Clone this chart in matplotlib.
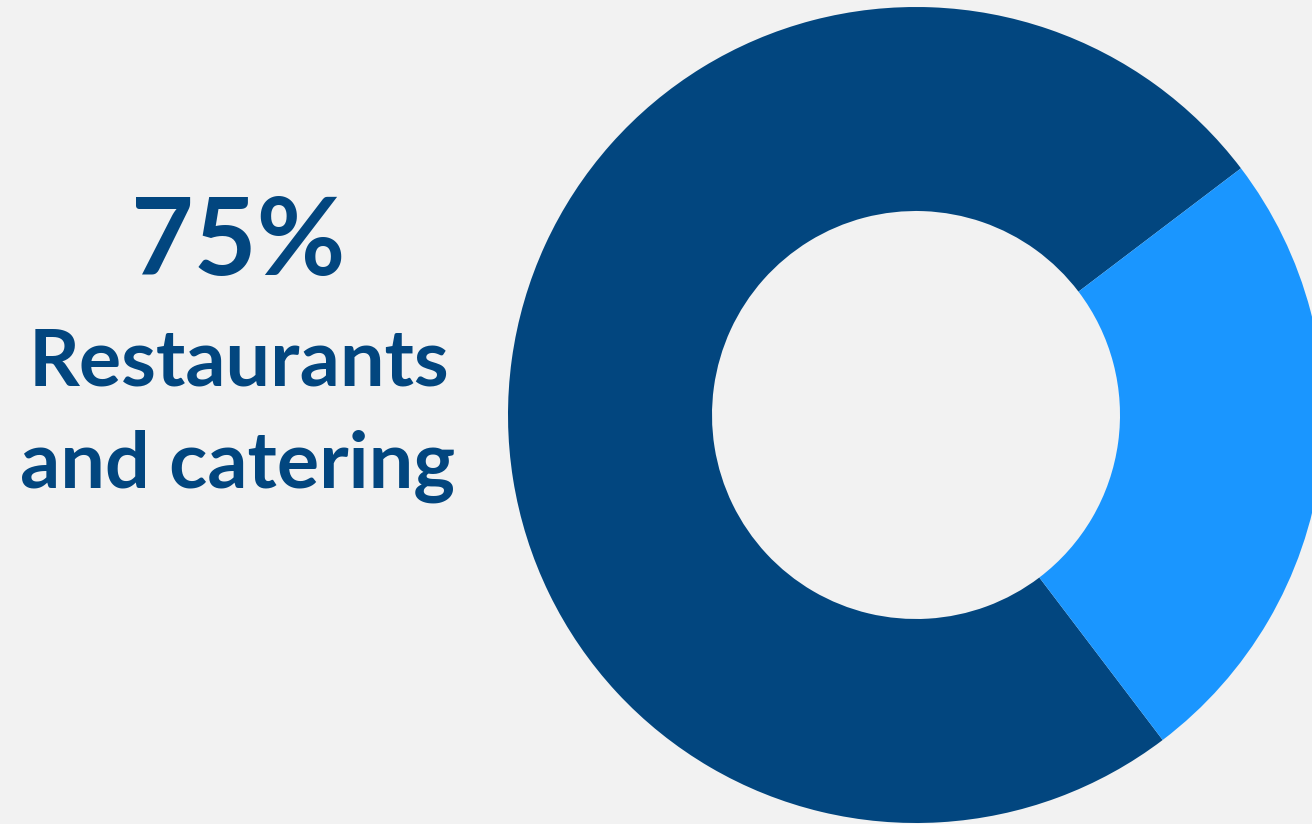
import matplotlib
matplotlib.use("Agg")
import matplotlib.pyplot as plt

# Share of spending by category
categories = ["Restaurants and catering", "Other"]
shares = [75, 25]
colors = ["#02467F", "#1A96FF"]
headline = "75%"
label_lines = ["Restaurants", "and catering"]

W, H = 1312, 824
fig = plt.figure(figsize=(W / 100, H / 100), dpi=100, facecolor="#F2F2F2")
ax = fig.add_axes([0, 0, 1, 1])
ax.set_facecolor("#F2F2F2")

ax.pie(shares, colors=colors, startangle=37.2, counterclock=True,
       center=(916, H - 415), radius=408,
       wedgeprops=dict(width=204, linewidth=0), frame=True)
ax.set_xlim(0, W)
ax.set_ylim(0, H)
ax.set_aspect("equal")
ax.axis("off")

txt_color = "#02467F"
font = ["Lato", "DejaVu Sans"]
ax.text(238, H - 275, headline, ha="center", va="baseline", fontsize=78,
        fontweight="bold", color=txt_color, family=font)
ax.text(239, H - 385, label_lines[0], ha="center", va="baseline", fontsize=57,
        fontweight="bold", color=txt_color, family=font)
ax.text(238, H - 488, label_lines[1], ha="center", va="baseline", fontsize=57,
        fontweight="bold", color=txt_color, family=font)

fig.savefig("out.png", dpi=100, facecolor="#F2F2F2")
